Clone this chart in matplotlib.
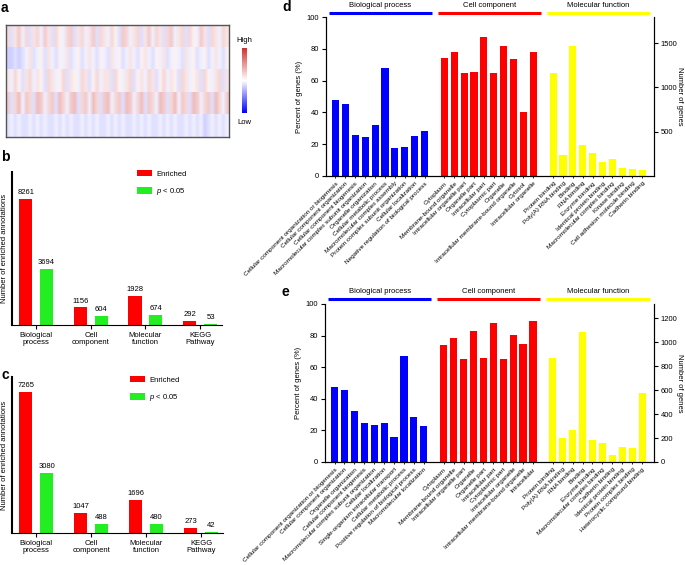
import matplotlib
matplotlib.use("Agg")
import matplotlib.pyplot as plt
import numpy as np
from matplotlib.colors import LinearSegmentedColormap
from matplotlib.cm import ScalarMappable
from matplotlib.colors import Normalize
import matplotlib.transforms as mtrans

plt.rcParams['font.family'] = ['Liberation Sans', 'DejaVu Sans']
plt.rcParams['mathtext.fontset'] = 'custom'
plt.rcParams['mathtext.it'] = 'Liberation Sans:italic'
plt.rcParams['mathtext.rm'] = 'Liberation Sans'

# ---- panel a: expression heatmap (5 rows), values on a -10..10 scale ----
heat_row1 = [3, -2, 2, 4, -1, 3, -2, 2, 3, -1, 4, 2, -2, 3, 1, -1, 3, 4, -2, 2,
             3, -1, 2, 4, -2, 3, 2, -1, 3, 1, -2, 4, 3, -1, 2, 3, -2, 2, 4, -1,
             3, 2, -2, 3, 4, -1, 2, 3, -2, 3, 1, -1, 4, 2, -2, 3, 2, -1, 3, 2]
heat_row2 = [-3, -3, -2, -3, -2, -1, 2, -2, -1, 1, -2, 2, -1, -2, 1, -1, 2, -2, -1, 1,
             -2, -1, 2, -1, -2, 1, -1, -2, 2, -1, 1, -2, -1, 2, -1, -2, 1, 2, -1, -2,
             1, -1, 2, -2, -1, 1, -1, -2, 2, -1, 1, -2, -1, 1, -2, -1, 2, -1, -2, 1]
heat_row3 = [2, -1, 3, 1, -2, 2, 3, -1, 2, 1, -2, 3, 2, -1, 1, 3, -2, 2, 1, -1,
             3, 2, -2, 1, 3, -1, 2, 2, -2, 3, 1, -1, 2, 3, -2, 1, 2, -1, 3, 2,
             -2, 1, 3, -1, 2, 1, -2, 3, 2, -1, 1, 2, -2, 3, 1, -1, 2, 3, -2, 2]
heat_row4 = [4, -2, 3, 5, -1, 4, 3, -2, 5, 4, -1, 3, 4, -2, 5, 3, -1, 4, 5, -2,
             3, 4, -1, 5, 3, -2, 4, 5, -1, 3, 4, -2, 5, 4, -1, 3, 5, -2, 4, 3,
             -1, 5, 4, -2, 3, 5, -1, 4, 3, -2, 5, 4, -1, 3, 4, -2, 5, 3, -1, 4]
heat_row5 = [-2, -1, -2, -1, -2, -2, -1, -2, -1, -2, -1, -2, -2, -1, -2, -1, -2, -1, -2, -2,
             -1, -2, -1, -2, -1, -2, -2, -1, -2, -1, -2, -1, -2, -2, -1, -2, -1, -2, -1, -2,
             -2, -1, -2, -1, -2, -1, -2, -2, -1, -2, -1, -2, -1, -3, -2, -1, -2, -1, -2, -1]

# ---- panels b and c: annotation counts ----
groups_bc = ["Biological\nprocess", "Cell\ncomponent", "Molecular\nfunction", "KEGG\nPathway"]
enriched_b = [8261, 1156, 1928, 292]
pval_b = [3694, 604, 674, 53]
enriched_c = [7265, 1047, 1696, 273]
pval_c = [3080, 488, 480, 42]

# ---- panel d: GO terms (percent of genes) ----
bp_labels_d = ["Cellular component organization or biogenesis", "Cellular component organization",
               "Cellular component biogenesis", "Macromolecular complex subunit organization",
               "Organelle organization", "Cellular metabolic process",
               "Macromolecular complex assembly", "Protein complex subunit organization",
               "Cellular localization", "Negative regulation of biological process"]
bp_vals_d = [48, 45.5, 26, 24.5, 32, 68, 17.5, 18.5, 25, 28.5]
cc_labels_d = ["Cytoplasm", "Membrane-bound organelle", "Intracellular organelle part",
               "Organelle part", "Intracellular part", "Cytoplasmic part", "Organelle",
               "Intracellular membrane-bound organelle", "Cytosol", "Intracellular organelle"]
cc_vals_d = [74, 78, 65, 65.5, 87.5, 65, 82, 73.5, 40, 78]
mf_labels_d = ["Protein binding", "Poly(A) RNA binding", "Binding", "RNA binding",
               "Enzyme binding", "Identical protein binding", "Macromolecular complex binding",
               "Kinase binding", "Cell adhesion molecule binding", "Cadherin binding"]
mf_vals_d = [64.5, 13.5, 81.5, 19.5, 14.5, 8.5, 10.5, 5, 4.5, 3.5]

# ---- panel e ----
bp_labels_e = ["Cellular component organization or biogenesis", "Cellular component organization",
               "Organelle organization", "Cellular component biogenesis",
               "Macromolecular complex subunit organization", "Cellular localization",
               "Single-organism intracellular transport", "Cellular metabolic process",
               "Positive regulation of biological process", "Macromolecular localization"]
bp_vals_e = [47.5, 45.5, 32.5, 25, 23.5, 25, 16, 67, 28.5, 22.5]
cc_labels_e = ["Cytoplasm", "Membrane-bound organelle", "Intracellular organelle part",
               "Organelle", "Organelle part", "Intracellular part", "Cytoplasmic part",
               "Intracellular organelle", "Intracellular membrane-bound organelle", "Intracellular"]
cc_vals_e = [74, 78.5, 65.5, 83, 66, 88, 65.5, 80.5, 75, 89]
mf_labels_e = ["Protein binding", "Poly(A) RNA binding", "RNA binding", "Binding",
               "Enzyme binding", "Macromolecular complex binding", "Cadherin binding",
               "Identical protein binding", "Protein complex binding",
               "Heterocyclic compound binding"]
mf_vals_e = [66, 15, 20, 82, 14, 12, 4.5, 9.5, 9, 43.5]

W, H = 685, 565
fig = plt.figure(figsize=(W / 100, H / 100), dpi=100)

RED = "#ff0000"
GREEN = "#22ee22"
BLUE = "#0000ff"
YELLOW = "#ffff00"
FS = 5.5


def ax_px(x0, y0, x1, y1):
    # axes placed by pixel box (top-left origin)
    return fig.add_axes([x0 / W, 1 - y1 / H, (x1 - x0) / W, (y1 - y0) / H])


def letter(x, y, s):
    fig.text(x / W, 1 - y / H, s, fontsize=10, fontweight="bold", va="center", ha="left")


# ================= panel a =================
cmap = LinearSegmentedColormap.from_list("bwr2", ["#0000ff", "#ffffff", "#d03030"])
heat = np.array([heat_row1, heat_row2, heat_row3, heat_row4, heat_row5])
ncol = heat.shape[1]
ax_a = ax_px(6, 25, 229, 137)
# one image per row so the colours blend sideways only (like fine stripes)
for i, row in enumerate(heat):
    ax_a.imshow(row[None, :], aspect="auto", cmap=cmap, vmin=-16, vmax=16,
                interpolation="bilinear", interpolation_stage="rgba",
                extent=(-0.5, ncol - 0.5, i + 0.5, i - 0.5))
ax_a.set_xlim(-0.5, ncol - 0.5)
ax_a.set_ylim(len(heat) - 0.5, -0.5)
ax_a.set_xticks([])
ax_a.set_yticks([])
for sp in ax_a.spines.values():
    sp.set_color("#555555")
    sp.set_linewidth(1.0)

cax = ax_px(242, 48, 247, 113)
cb = fig.colorbar(ScalarMappable(norm=Normalize(-10, 10), cmap=cmap), cax=cax)
cb.set_ticks([])
cb.outline.set_visible(False)
fig.text(244.5 / W, 1 - 40 / H, "High", fontsize=FS, ha="center", va="center")
fig.text(244.5 / W, 1 - 123 / H, "Low", fontsize=FS, ha="center", va="center")
letter(1, 8, "a")


# ================= panels b, c =================
def draw_counts(ax, enriched, pval, ymax, leg_xy):
    x = np.arange(len(groups_bc))
    off, w = 0.19, 0.24
    r = ax.bar(x - off, enriched, w, color=RED, label="Enriched")
    g = ax.bar(x + off, pval, w, color=GREEN, label=r"$p$ < 0.05")
    for bars, vals in ((r, enriched), (g, pval)):
        for b, v in zip(bars, vals):
            ax.annotate(str(v), (b.get_x() + b.get_width() / 2, v), xytext=(0, 2),
                        textcoords="offset points", ha="center", va="bottom", fontsize=FS)
    ax.set_xlim(-0.44, 3.40)
    ax.set_ylim(0, ymax)
    ax.set_xticks(x)
    ax.set_xticklabels(groups_bc, fontsize=FS, linespacing=1.1)
    ax.set_yticks([])
    ax.tick_params(axis="x", length=3, width=0.8, pad=2)
    ax.spines["top"].set_visible(False)
    ax.spines["right"].set_visible(False)
    ax.spines["left"].set_linewidth(1.5)
    ax.spines["bottom"].set_linewidth(0.8)
    ax.set_ylabel("Number of enriched annotations", fontsize=FS, labelpad=3)
    ax.legend(loc="upper left", bbox_to_anchor=(leg_xy[0] / W, 1 - leg_xy[1] / H),
              bbox_transform=fig.transFigure, frameon=False, fontsize=FS,
              handlelength=2.0, handleheight=0.9, labelspacing=1.1, handletextpad=0.5,
              borderaxespad=0, borderpad=0)


ax_b = ax_px(12, 172, 222, 325)
draw_counts(ax_b, enriched_b, pval_b, 10030, (137, 170))
letter(1, 157, "b")

ax_c = ax_px(12, 377, 223, 533)
draw_counts(ax_c, enriched_c, pval_c, 8040, (130, 376))
letter(1, 375, "c")


# ================= panels d, e =================
def draw_go(ax, bp_l, bp_v, cc_l, cc_v, mf_l, mf_v, rmax, rticks, line_y, title_y):
    sets = [(bp_l, bp_v, BLUE, "Biological process", 0),
            (cc_l, cc_v, RED, "Cell component", 11),
            (mf_l, mf_v, YELLOW, "Molecular function", 22)]
    trans = mtrans.blended_transform_factory(ax.transData, ax.transAxes)
    pos_all, lab_all = [], []
    for labels, vals, col, title, start in sets:
        pos = np.arange(start, start + len(vals))
        ax.bar(pos, vals, 0.72, color=col)
        pos_all += list(pos)
        lab_all += labels
        x0, x1 = pos[0] - 0.65, pos[-1] + 0.75
        ax.plot([x0, x1], [line_y, line_y], color=col, lw=2.2, transform=trans,
                clip_on=False, solid_capstyle="butt")
        ax.text((x0 + x1) / 2, title_y, title, transform=trans, ha="center",
                va="center", fontsize=FS)
    ax.set_xlim(-0.96, 32.2)
    ax.set_ylim(0, 100)
    ax.set_yticks(np.arange(0, 101, 20))
    ax.set_xticks(pos_all)
    ax.set_xticklabels(lab_all, rotation=45, ha="right", va="top",
                       rotation_mode="anchor", fontsize=4.6)
    ax.tick_params(axis="x", length=1.5, width=0.6, pad=2)
    ax.tick_params(axis="y", length=3, width=0.8, labelsize=FS, pad=2)
    ax.spines["top"].set_visible(False)
    for s in ("left", "bottom", "right"):
        ax.spines[s].set_linewidth(0.8)
    ax.set_ylabel("Percent of genes (%)", fontsize=FS)
    ax.yaxis.set_label_coords(-0.07, 0.5)
    ax2 = ax.twinx()
    ax2.set_ylim(0, rmax)
    ax2.set_yticks(rticks)
    ax2.tick_params(axis="y", length=3, width=0.8, labelsize=FS, pad=2)
    ax2.spines["top"].set_visible(False)
    ax2.spines["right"].set_linewidth(0.8)
    ax2.set_ylabel("Number of genes", fontsize=FS, rotation=270, va="center")
    ax2.yaxis.set_label_coords(1.078, 0.5)


ax_d = ax_px(326, 17, 654, 176)
draw_go(ax_d, bp_labels_d, bp_vals_d, cc_labels_d, cc_vals_d, mf_labels_d, mf_vals_d,
        1796, [500, 1000, 1500], 1.025, 1.07)
letter(282, 7, "d")

ax_e = ax_px(325, 304, 654, 462)
draw_go(ax_e, bp_labels_e, bp_vals_e, cc_labels_e, cc_vals_e, mf_labels_e, mf_vals_e,
        1320, list(range(0, 1201, 200)), 1.032, 1.076)
letter(282, 292, "e")

fig.savefig("out.png", dpi=100)
